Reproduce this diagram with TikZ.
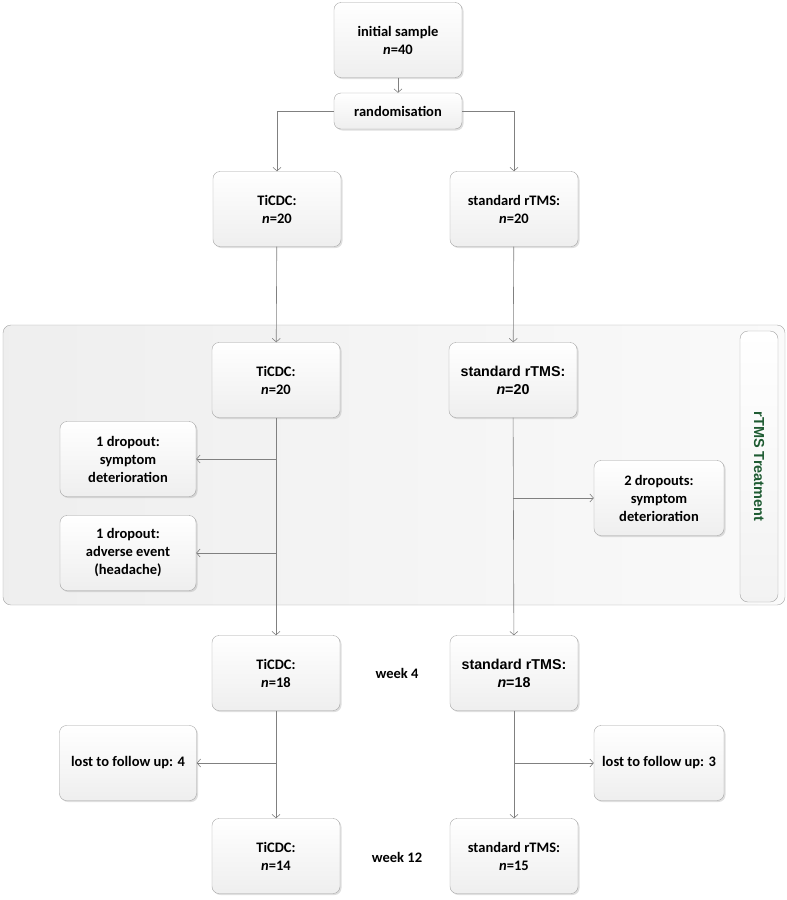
\documentclass[tikz,border=0pt]{standalone}
\usepackage{fontspec}
\setmainfont{Carlito}
\newfontfamily\arialfont{Liberation Sans}
\usetikzlibrary{shadows, arrows.meta, backgrounds}

\definecolor{boxline}{HTML}{A3A3A3}
\definecolor{flowline}{HTML}{808080}
\definecolor{phasegreen}{HTML}{1E5B32}

\begin{document}
\begin{tikzpicture}[x=1pt, y=-1pt]
    % Styles
    \tikzset{
        stage/.style={rectangle, draw=boxline, rounded corners=7pt, top color=white, bottom color=gray!13, drop shadow={shadow xshift=1.5pt, shadow yshift=-1.5pt, opacity=0.25, fill=gray}, align=center, font=\bfseries\fontsize{14.5}{18}\selectfont, minimum width=128pt, minimum height=75pt, inner sep=2pt},
        arial_stage/.style={stage, font=\arialfont\bfseries\fontsize{14.3}{18}\selectfont},
        flow/.style={draw=flowline, line width=0.6pt, -{Straight Barb[length=3.5pt, width=8pt]}},
        week_label/.style={font=\bfseries\fontsize{14.5}{18}\selectfont},
        phase_box/.style={rectangle, draw=boxline, rounded corners=8pt, left color=gray!13, right color=gray!4},
        phase_tab/.style={rectangle, draw=boxline, rounded corners=8pt, top color=white, bottom color=gray!10, rotate=-90, text=phasegreen, font=\arialfont\bfseries\fontsize{14.5}{16}\selectfont}
    }

    \useasboundingbox (0,0) rectangle (787,900);

    % --- Nodes ---

    % Enrolment
    \node[stage] (initial_sample) at (398,40) {initial sample\\\textit{n}=40};
    \node[stage, minimum height=36pt] (randomisation) at (398,111) {randomisation};

    % Allocation
    \node[stage] (ticdc_start) at (277,209) {TiCDC:\\\textit{n}=20};
    \node[stage] (rtms_start) at (514,209) {standard rTMS:\\\textit{n}=20};

    % Treatment phase
    \node[stage] (ticdc_treat) at (276,380) {TiCDC:\\\textit{n}=20};
    \node[arial_stage] (rtms_treat) at (513,380) {standard rTMS:\\\textit{n}=20};
    \node[stage, minimum width=136pt] (ticdc_drop_symptom) at (128,459) {1 dropout:\\symptom\\deterioration};
    \node[stage, minimum width=136pt] (ticdc_drop_adverse) at (128,553) {1 dropout:\\adverse event\\(headache)};
    \node[stage, minimum width=130pt] (rtms_drop) at (659,498) {2 dropouts:\\symptom\\deterioration};

    % Week 4
    \node[stage] (ticdc_week4) at (276,673) {TiCDC:\\\textit{n}=18};
    \node[arial_stage] (rtms_week4) at (514,673) {standard rTMS:\\\textit{n}=18};
    \node[week_label] (week4) at (397,673) {week 4};

    % Follow up
    \node[stage, minimum width=137pt] (ticdc_lost) at (128,763) {lost to follow up: 4};
    \node[stage, minimum width=130pt] (rtms_lost) at (659,763) {lost to follow up: 3};

    % Week 12
    \node[stage] (ticdc_week12) at (276,856) {TiCDC:\\\textit{n}=14};
    \node[stage] (rtms_week12) at (514,856) {standard rTMS:\\\textit{n}=15};
    \node[week_label] (week12) at (397,857) {week 12};

    % --- Connections ---

    \draw[flow] (initial_sample) -- (randomisation);
    \draw[flow] (randomisation.west) -| (ticdc_start.north);
    \draw[flow] (randomisation.east) -| (rtms_start.north);

    \draw[flow] (ticdc_start) -- (ticdc_treat);
    \draw[flow] (rtms_start) -- (rtms_treat);

    % Dropouts during treatment
    \draw[flow] (ticdc_treat) -- (ticdc_week4);
    \draw[flow] (ticdc_treat.south |- ticdc_drop_symptom.east) -- (ticdc_drop_symptom.east);
    \draw[flow] (ticdc_treat.south |- ticdc_drop_adverse.east) -- (ticdc_drop_adverse.east);
    \draw[flow] (rtms_treat) -- (rtms_week4);
    \draw[flow] (rtms_treat.south |- rtms_drop.west) -- (rtms_drop.west);

    % Losses to follow up
    \draw[flow] (ticdc_week4) -- (ticdc_week12);
    \draw[flow] (ticdc_week4.south |- ticdc_lost.east) -- (ticdc_lost.east);
    \draw[flow] (rtms_week4) -- (rtms_week12);
    \draw[flow] (rtms_week4.south |- rtms_lost.west) -- (rtms_lost.west);

    % --- Container ---

    \begin{scope}[on background layer]
        \node[phase_box, minimum width=782pt, minimum height=280pt] (treatment_phase) at (394,465) {};
        \node[phase_tab, minimum width=271pt, minimum height=38pt] (treatment_tab) at (759,466.5) {rTMS Treatment};
    \end{scope}

\end{tikzpicture}
\end{document}
